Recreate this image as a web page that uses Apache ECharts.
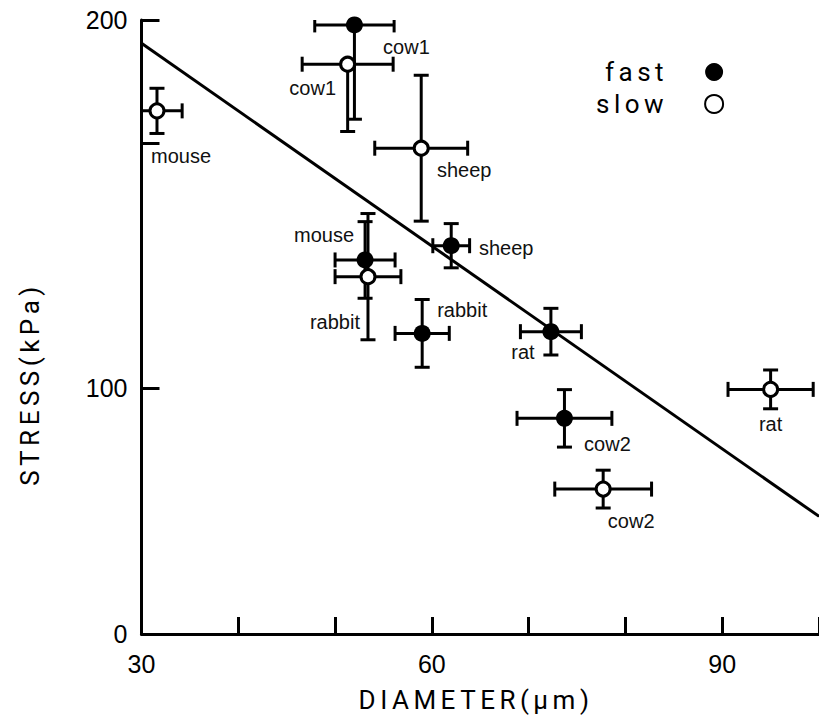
<!DOCTYPE html>
<html>
<head>
<meta charset="utf-8">
<script src="https://cdn.jsdelivr.net/npm/echarts@6/dist/echarts.min.js"></script>
<style>
  html, body { margin: 0; padding: 0; background: #fff; }
  #chart { width: 819px; height: 722px; }
  /* the axis titles and the key are set in a spaced-out face */
  #chart text[style*="Roboto"], #chart text[font-family*="Roboto"] { letter-spacing: 4.5px; }
</style>
</head>
<body>
<div id="chart"></div>
<script>
// animals, in the order used by both fibre types
const fastNames = ["mouse", "cow1", "sheep", "rabbit", "rat", "cow2"];
const fastX = [53.1, 52.0, 62.0, 59.0, 72.3, 73.7];
const fastY = [152.3, 248.0, 158.1, 122.4, 123.1, 87.8];
const fastXErr = [3.1, 4.1, 1.9, 2.8, 3.15, 4.9];
const fastYErrUp = [15.6, 0, 9.0, 13.8, 9.5, 11.7];
const fastYErrDown = [15.6, 38.4, 9.0, 13.8, 9.5, 11.7];

const slowNames = ["mouse", "cow1", "sheep", "rabbit", "rat", "cow2"];
const slowX = [31.6, 51.3, 58.9, 53.4, 95.0, 77.7];
const slowY = [213.0, 232.0, 197.8, 145.5, 99.6, 59.0];
const slowXErr = [2.6, 4.7, 4.8, 3.4, 4.4, 5.0];
const slowYErrUp = [9.2, 0, 29.7, 25.7, 7.9, 7.7];
const slowYErrDown = [9.2, 27.4, 29.7, 25.7, 7.9, 7.7];

// fitted line end points
const fitX = [30, 100];
const fitY = [240.5, 47.9];

const xTickLabels = [30, 60, 90];
const yTickValues = [0, 100, 250];
const yTickLabels = ["0", "100", "200"];

// where each label sits relative to its point (px)
const fastLabelOffset = [[-41, -25], [52, 22], [55, 2], [40, -23], [-28, 20], [43, 26]];
const slowLabelOffset = [[24, 45], [-35, 24], [43, 22], [-33, 45], [0, 35], [28, 32]];

var chart = echarts.init(document.getElementById("chart"), null, { renderer: "svg" });

function errData(xs, ys, xe, up, down) {
  return xs.map((x, i) => [x, ys[i], xe[i], up[i], down[i]]);
}

function renderErr(params, api) {
  const x = api.value(0), y = api.value(1), xe = api.value(2);
  const up = api.value(3), down = api.value(4);
  const c = api.coord([x, y]);
  const l = api.coord([x - xe, y]), r = api.coord([x + xe, y]);
  const t = api.coord([x, y + up]), b = api.coord([x, y - down]);
  const cap = 7.5;
  const st = { stroke: "#000", lineWidth: 3 };
  const kids = [
    { type: "line", shape: { x1: l[0], y1: c[1], x2: r[0], y2: c[1] }, style: st },
    { type: "line", shape: { x1: l[0], y1: c[1] - cap, x2: l[0], y2: c[1] + cap }, style: st },
    { type: "line", shape: { x1: r[0], y1: c[1] - cap, x2: r[0], y2: c[1] + cap }, style: st },
    { type: "line", shape: { x1: c[0], y1: b[1], x2: c[0], y2: t[1] }, style: st },
    { type: "line", shape: { x1: c[0] - cap, y1: b[1], x2: c[0] + cap, y2: b[1] }, style: st }
  ];
  if (up > 0) {
    kids.push({ type: "line", shape: { x1: c[0] - cap, y1: t[1], x2: c[0] + cap, y2: t[1] }, style: st });
  }
  return { type: "group", children: kids };
}

function pointData(names, xs, ys, offs) {
  return names.map((n, i) => ({
    name: n,
    value: [xs[i], ys[i]],
    label: { offset: offs[i] }
  }));
}

const labelStyle = {
  show: true,
  position: "inside",
  formatter: p => p.name,
  color: "#111",
  fontSize: 20,
  fontFamily: "Liberation Sans"
};

const spacedFont = { fontFamily: "Roboto", fontWeight: "normal", color: "#000" };

var option = {
  animation: false,
  backgroundColor: "#fff",
  grid: { left: 141.5, right: -7, top: 20, bottom: 88 },
  legend: {
    data: ["fast", "slow"],
    orient: "vertical",
    align: "right",
    left: 609,
    top: 54,
    itemGap: 6,
    itemWidth: 18,
    itemHeight: 18,
    textStyle: Object.assign({ fontSize: 26, padding: [0, 32, 0, 0] }, spacedFont)
  },
  xAxis: {
    type: "value",
    min: 30,
    max: 100,
    interval: 10,
    axisLine: { lineStyle: { color: "#000", width: 3 } },
    axisTick: { inside: true, length: 17, lineStyle: { color: "#000", width: 3 } },
    axisLabel: {
      customValues: xTickLabels,
      color: "#000",
      fontSize: 25,
      fontFamily: "Liberation Sans",
      margin: 17
    },
    splitLine: { show: false }
  },
  yAxis: {
    type: "value",
    min: 0,
    max: 250,
    interval: 50,
    axisLine: { lineStyle: { color: "#000", width: 3 } },
    axisTick: {
      inside: true,
      length: 18,
      customValues: [100, 200, 250],
      lineStyle: { color: "#000", width: 3 }
    },
    axisLabel: {
      customValues: yTickValues,
      formatter: v => yTickLabels[yTickValues.indexOf(v)],
      color: "#000",
      fontSize: 25,
      fontFamily: "Liberation Sans",
      margin: 14
    },
    splitLine: { show: false }
  },
  graphic: [
    {
      type: "text",
      x: 476, y: 700,
      style: Object.assign({
        text: "DIAMETER(μm)", fontSize: 26, fill: "#000",
        align: "center", verticalAlign: "middle"
      }, spacedFont)
    },
    {
      type: "text",
      x: 30, y: 384,
      rotation: Math.PI / 2,
      style: Object.assign({
        text: "STRESS(kPa)", fontSize: 26, fill: "#000",
        align: "center", verticalAlign: "middle"
      }, spacedFont)
    }
  ],
  series: [
    {
      name: "fit",
      type: "line",
      data: fitX.map((x, i) => [x, fitY[i]]),
      symbol: "none",
      lineStyle: { color: "#000", width: 3 },
      z: 1
    },
    {
      name: "fast err",
      type: "custom",
      clip: true,
      renderItem: renderErr,
      data: errData(fastX, fastY, fastXErr, fastYErrUp, fastYErrDown),
      z: 2
    },
    {
      name: "slow err",
      type: "custom",
      clip: true,
      renderItem: renderErr,
      data: errData(slowX, slowY, slowXErr, slowYErrUp, slowYErrDown),
      z: 2
    },
    {
      name: "fast",
      type: "scatter",
      symbol: "circle",
      symbolSize: 17,
      itemStyle: { color: "#000", opacity: 1 },
      label: labelStyle,
      data: pointData(fastNames, fastX, fastY, fastLabelOffset),
      z: 3
    },
    {
      name: "slow",
      type: "scatter",
      symbol: "circle",
      symbolSize: 14,
      itemStyle: { color: "#fff", borderColor: "#000", borderWidth: 3, opacity: 1 },
      label: labelStyle,
      data: pointData(slowNames, slowX, slowY, slowLabelOffset),
      z: 3
    }
  ]
};

chart.setOption(option);
</script>
</body>
</html>
